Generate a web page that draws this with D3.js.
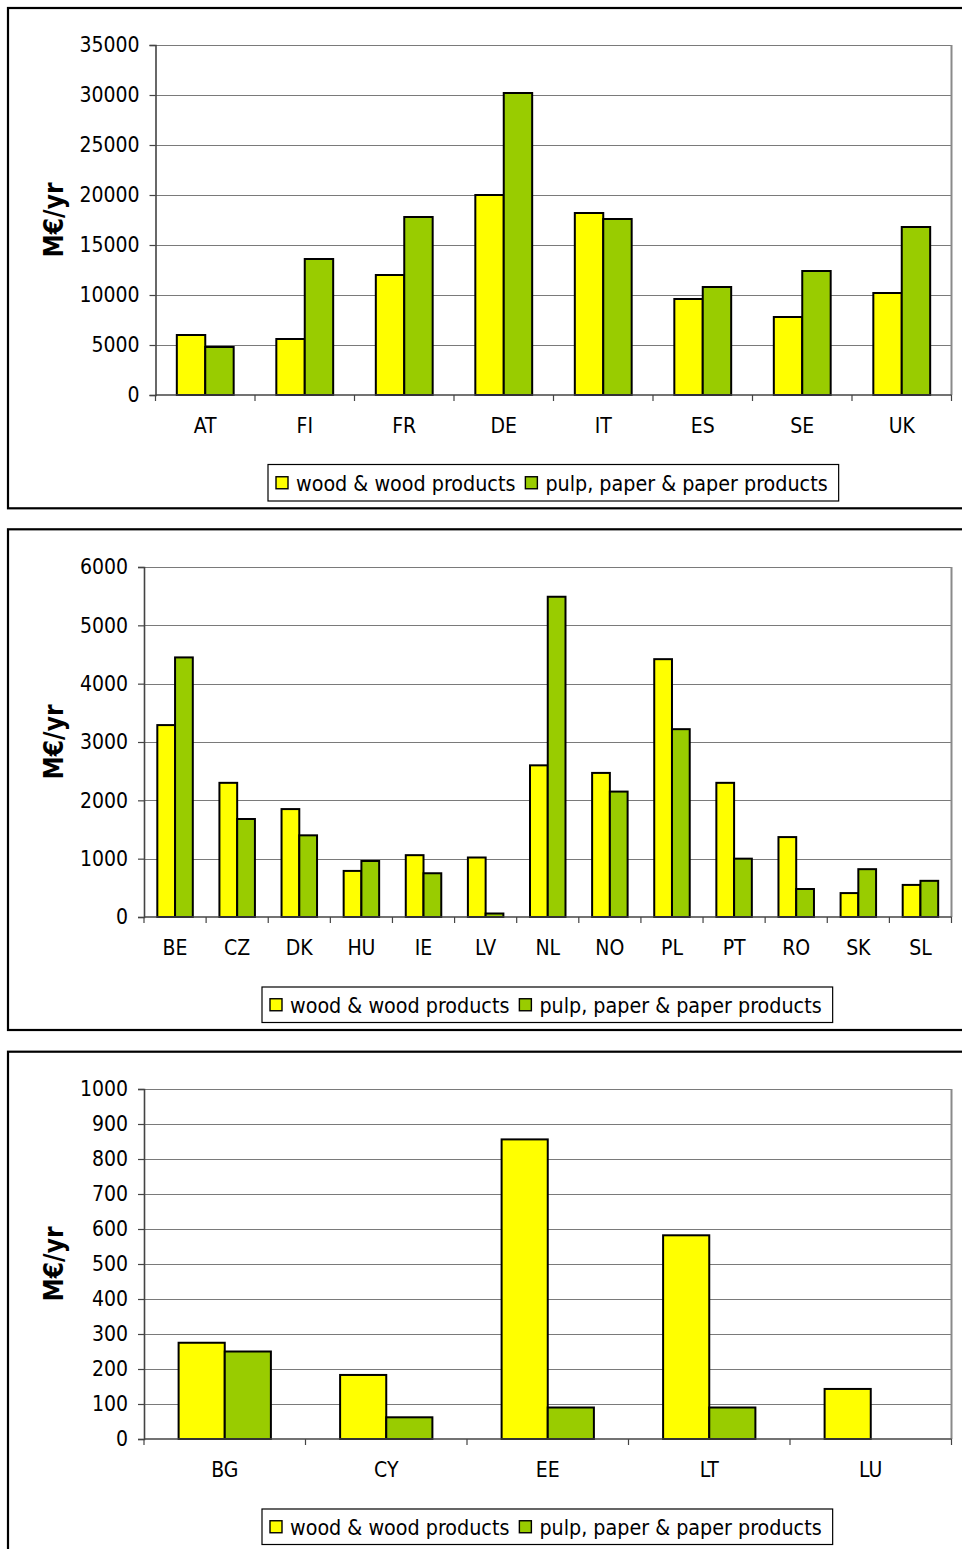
<!DOCTYPE html>
<html>
<head>
<meta charset="utf-8">
<script src="https://cdn.jsdelivr.net/npm/d3@7"></script>
<style>
  html, body { margin: 0; padding: 0; background: #fff; }
  svg text { font-family: "DejaVu Sans Condensed", "DejaVu Sans", sans-serif; fill: #000; }
</style>
</head>
<body>
<svg id="chart" width="962" height="1549"></svg>
<script>
// Output of the wood and paper industries, M€/yr, by country
const seriesNames = ["wood & wood products", "pulp, paper & paper products"];
const seriesColors = ["#FFFF00", "#99CC00"];

// Large producers
const countriesLarge = ["AT", "FI", "FR", "DE", "IT", "ES", "SE", "UK"];
const woodLarge = [6000, 5600, 12000, 20000, 18200, 9600, 7800, 10200];
const pulpLarge = [4800, 13600, 17800, 30200, 17600, 10800, 12400, 16800];
const ticksLarge = [0, 5000, 10000, 15000, 20000, 25000, 30000, 35000];

// Medium producers
const countriesMedium = ["BE", "CZ", "DK", "HU", "IE", "LV", "NL", "NO", "PL", "PT", "RO", "SK", "SL"];
const woodMedium = [3290, 2300, 1850, 790, 1060, 1020, 2600, 2470, 4420, 2300, 1370, 410, 550];
const pulpMedium = [4450, 1680, 1400, 960, 750, 60, 5490, 2150, 3220, 1000, 480, 820, 620];
const ticksMedium = [0, 1000, 2000, 3000, 4000, 5000, 6000];

// Small producers (no paper output reported for LU)
const countriesSmall = ["BG", "CY", "EE", "LT", "LU"];
const woodSmall = [275, 183, 856, 582, 143];
const pulpSmall = [250, 62, 90, 90, null];
const ticksSmall = [0, 100, 200, 300, 400, 500, 600, 700, 800, 900, 1000];

const yTitle = "M€/yr";

const panels = [
  { cats: countriesLarge, wood: woodLarge, pulp: pulpLarge, ticks: ticksLarge,
    frameTop: 8, frameBottom: 508.3,
    plot: { left: 155.5, right: 951.5, top: 45, bottom: 395 },
    legend: { x: 268, y: 464.5, h: 36.5 } },
  { cats: countriesMedium, wood: woodMedium, pulp: pulpMedium, ticks: ticksMedium,
    frameTop: 529.3, frameBottom: 1030,
    plot: { left: 144, right: 951.5, top: 567, bottom: 917 },
    legend: { x: 262, y: 987, h: 35.5 } },
  { cats: countriesSmall, wood: woodSmall, pulp: pulpSmall, ticks: ticksSmall,
    frameTop: 1051.7, frameBottom: 1580,
    plot: { left: 144, right: 951.5, top: 1089, bottom: 1439 },
    legend: { x: 262, y: 1509, h: 35.5 } }
];

const svg = d3.select("#chart");

panels.forEach(p => {
  const g = svg.append("g");
  const { left, right, top, bottom } = p.plot;

  // Outer frame of the panel (runs past the right edge of the page)
  g.append("rect")
    .attr("x", 8).attr("y", p.frameTop)
    .attr("width", 1000).attr("height", p.frameBottom - p.frameTop)
    .attr("fill", "none").attr("stroke", "#000").attr("stroke-width", 2.2);

  const x = d3.scaleBand().domain(p.cats).range([left, right]).paddingInner(0).paddingOuter(0);
  const xs = d3.scaleBand().domain([0, 1]).range([0, x.bandwidth()]).paddingInner(0).paddingOuter(0.75);
  const y = d3.scaleLinear().domain([0, d3.max(p.ticks)]).range([bottom, top]);

  // Horizontal gridlines
  g.append("g").selectAll("line").data(p.ticks.filter(t => t > 0)).join("line")
    .attr("x1", left).attr("x2", right)
    .attr("y1", d => Math.round(y(d)) + 0.5).attr("y2", d => Math.round(y(d)) + 0.5)
    .attr("stroke", "#7a7a7a").attr("stroke-width", 1.2);

  // Right edge of the plot area
  g.append("line")
    .attr("x1", right).attr("x2", right).attr("y1", top).attr("y2", bottom)
    .attr("stroke", "#8a8a8a").attr("stroke-width", 2);

  // Bars
  const rows = p.cats.map((c, i) => ({ c, vals: [p.wood[i], p.pulp[i]] }));
  const grp = g.append("g").selectAll("g").data(rows).join("g")
    .attr("transform", d => `translate(${x(d.c)},0)`);
  grp.selectAll("rect")
    .data(d => d.vals.map((v, k) => ({ v, k })).filter(e => e.v != null && e.v > 0))
    .join("rect")
    .attr("x", d => xs(d.k))
    .attr("width", xs.bandwidth())
    .attr("y", d => y(d.v))
    .attr("height", d => y(0) - y(d.v))
    .attr("fill", d => seriesColors[d.k])
    .attr("stroke", "#000").attr("stroke-width", 2);

  // Y axis
  const yAxis = d3.axisLeft(y).tickValues(p.ticks).tickSize(6).tickPadding(10).tickFormat(d3.format("d"));
  const ya = g.append("g").attr("transform", `translate(${left},0)`).call(yAxis);
  ya.select(".domain").attr("stroke", "#444").attr("stroke-width", 1.6);
  ya.selectAll(".tick line").attr("stroke", "#444").attr("stroke-width", 1.2);
  ya.selectAll(".tick text").attr("font-size", 21)
    .attr("font-family", "DejaVu Sans Condensed, DejaVu Sans, sans-serif").attr("fill", "#000");

  // X axis with ticks on the category boundaries
  const xa = g.append("g").attr("transform", `translate(0,${bottom})`);
  xa.append("line").attr("x1", left).attr("x2", right).attr("y1", 0).attr("y2", 0)
    .attr("stroke", "#444").attr("stroke-width", 1.6);
  const bounds = p.cats.map(c => x(c)).concat([right]);
  xa.selectAll("line.tk").data(bounds).join("line").attr("class", "tk")
    .attr("x1", d => d).attr("x2", d => d).attr("y1", 0).attr("y2", 6)
    .attr("stroke", "#444").attr("stroke-width", 1.2);
  xa.selectAll("text").data(p.cats).join("text")
    .attr("x", d => x(d) + x.bandwidth() / 2).attr("y", 38)
    .attr("text-anchor", "middle").attr("font-size", 21).text(d => d);

  // Y axis title
  g.append("text")
    .attr("transform", `translate(63,${(top + bottom) / 2}) rotate(-90)`)
    .attr("text-anchor", "middle").attr("font-size", 26).attr("font-weight", "bold")
    .attr("font-family", "DejaVu Sans, sans-serif")
    .text(yTitle);

  // Legend
  const lg = g.append("g");
  const box = lg.append("rect")
    .attr("x", p.legend.x).attr("y", p.legend.y).attr("height", p.legend.h)
    .attr("fill", "#fff").attr("stroke", "#000").attr("stroke-width", 1.2);
  let cx = p.legend.x + 8;
  const cy = p.legend.y + p.legend.h / 2;
  seriesNames.forEach((name, k) => {
    lg.append("rect")
      .attr("x", cx).attr("y", cy - 6).attr("width", 12).attr("height", 12)
      .attr("fill", seriesColors[k]).attr("stroke", "#000").attr("stroke-width", 1.4);
    const t = lg.append("text")
      .attr("x", cx + 20).attr("y", cy + 8)
      .attr("font-size", 21.3).text(name);
    cx = cx + 20 + t.node().getComputedTextLength() + 10;
  });
  box.attr("width", cx - p.legend.x + 1);
});
</script>
</body>
</html>
